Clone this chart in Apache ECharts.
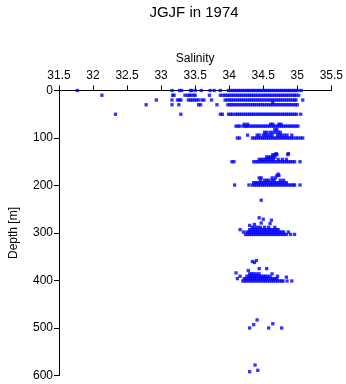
<!DOCTYPE html>
<html>
<head>
<meta charset="utf-8">
<script src="https://cdn.jsdelivr.net/npm/echarts@6/dist/echarts.min.js"></script>
<style>html,body{margin:0;padding:0;background:#fff}#c{width:346px;height:384px}</style>
</head>
<body>
<div id="c"></div>
<script>
// ---- data: salinity values per sampled depth row ----
const title = "JGJF in 1974";
const xName = "Salinity";
const yName = "Depth [m]";
const xTicks = [31.5, 32, 32.5, 33, 33.5, 34, 34.5, 35, 35.5];
const yTicks = [0, 100, 200, 300, 400, 500, 600];

const rowDepths = [0, 10, 20, 25, 30, 50, 71, 75, 82, 88, 94, 100, 133, 135, 140, 145, 150, 176, 179, 184, 189, 194, 199, 231, 288, 293, 298, 303, 386, 391, 396, 401];

const sal0 = [31.77,33.16,33.27,33.30,33.43,33.45,33.50,33.59,33.72,33.78,33.87,33.99,34.02,34.05,34.08,34.11,34.14,34.17,34.20,34.23,34.26,34.29,34.32,34.35,34.38,34.41,34.44,34.47,34.50,34.53,34.56,34.59,34.62,34.65,34.68,34.71,34.74,34.77,34.80,34.83,34.86,34.89,34.92,34.95,34.98,35.01,35.06];
const sal10 = [32.13,33.17,33.19,33.35,33.39,33.42,33.44,33.48,33.50,33.71,33.87,33.91,33.94,33.97,34.00,34.03,34.06,34.09,34.12,34.15,34.18,34.21,34.24,34.27,34.30,34.33,34.36,34.39,34.42,34.45,34.48,34.51,34.54,34.57,34.60,34.63,34.66,34.69,34.72,34.75,34.78,34.81,34.84,34.87,34.90,34.93,34.96,34.98,35.02];
const sal20 = [32.93,33.16,33.24,33.27,33.29,33.40,33.43,33.46,33.49,33.52,33.55,33.60,33.63,33.74,33.94,33.97,34.00,34.03,34.06,34.09,34.12,34.15,34.18,34.21,34.24,34.27,34.30,34.33,34.36,34.39,34.42,34.45,34.48,34.51,34.54,34.57,34.60,34.63,34.66,34.69,34.72,34.75,34.78,34.81,34.84,34.87,34.90,34.93,34.96,34.98,35.08];
const sal25 = [34.64];
const sal30 = [32.78,33.16,33.26,33.55,33.58,33.82,33.98,34.01,34.04,34.07,34.10,34.13,34.16,34.19,34.22,34.25,34.28,34.31,34.34,34.37,34.40,34.43,34.46,34.49,34.52,34.55,34.58,34.61,34.64,34.67,34.70,34.73,34.76,34.79,34.82,34.85,34.88,34.91,34.94,34.97,35.00];
const sal50 = [32.33,33.29,33.87,33.90,33.99,34.02,34.05,34.09,34.12,34.15,34.18,34.21,34.24,34.27,34.30,34.33,34.36,34.39,34.42,34.45,34.48,34.51,34.54,34.57,34.60,34.63,34.66,34.69,34.72,34.75,34.78,34.81,34.84,34.87,34.90,34.93,34.96,34.99,35.05];
const sal71 = [34.22,34.27,34.61,34.64,34.73,34.76];
const sal75 = [34.10,34.13,34.16,34.21,34.24,34.26,34.29,34.32,34.35,34.38,34.41,34.44,34.47,34.50,34.53,34.56,34.59,34.62,34.65,34.68,34.71,34.74,34.77,34.80,34.83,34.86,34.89,34.92,34.95,34.98,35.01];
const sal82 = [34.67,34.70];
const sal88 = [34.52,34.55,34.60,34.64,34.68,34.72,34.75];
const sal94 = [34.27,34.41,34.44,34.50,34.53,34.56,34.60,34.63,34.71,34.74,34.77,34.81,34.85,34.92];
const sal100 = [34.12,34.15,34.34,34.37,34.40,34.43,34.46,34.49,34.52,34.55,34.58,34.61,34.64,34.67,34.70,34.73,34.76,34.79,34.82,34.85,34.88,34.91,34.94,34.98,35.01,35.05,35.08];
const sal133 = [34.69,34.87];
const sal135 = [34.64,34.67,34.70,34.86];
const sal140 = [34.55,34.58,34.61,34.64,34.67];
const sal145 = [34.44,34.47,34.50,34.53,34.56,34.59,34.62,34.65,34.72,34.78,34.84];
const sal150 = [34.04,34.07,34.36,34.39,34.42,34.45,34.48,34.51,34.54,34.57,34.60,34.63,34.66,34.69,34.72,34.75,34.78,34.81,34.84,34.87,34.90,34.93,34.96,35.04];
const sal176 = [34.72];
const sal179 = [34.70,34.73];
const sal184 = [34.44,34.47,34.63,34.68];
const sal189 = [34.46,34.52,34.55,34.58,34.63,34.66,34.75,34.80];
const sal194 = [34.36,34.39,34.42,34.45,34.48,34.51,34.54,34.57,34.60,34.63,34.66,34.69,34.72,34.75,34.78,34.81,34.84];
const sal199 = [34.08,34.29,34.34,34.37,34.40,34.43,34.46,34.49,34.52,34.55,34.58,34.61,34.64,34.67,34.70,34.73,34.76,34.79,34.82,34.85,34.88,34.91,34.94,34.96,35.04];
const sal231 = [34.47];
const sal288 = [34.34,34.38,34.42,34.46,34.52,34.58,34.67];
const sal293 = [34.16,34.30,34.33,34.36,34.39,34.42,34.45,34.48,34.51,34.54,34.57,34.60,34.63,34.66,34.69,34.72];
const sal298 = [34.21,34.26,34.29,34.32,34.35,34.38,34.41,34.44,34.47,34.50,34.53,34.56,34.59,34.62,34.65,34.68,34.71,34.74,34.77,34.80,34.87];
const sal303 = [34.24,34.27,34.30,34.33,34.36,34.39,34.42,34.45,34.48,34.51,34.54,34.57,34.60,34.63,34.66,34.69,34.72,34.75,34.78,34.81,34.84,34.90,34.96];
const sal386 = [34.30,34.33,34.36,34.40,34.44,34.63];
const sal391 = [34.16,34.26,34.29,34.32,34.35,34.38,34.41,34.44,34.47,34.50,34.53,34.56,34.60,34.71];
const sal396 = [34.12,34.22,34.25,34.28,34.31,34.34,34.37,34.40,34.43,34.46,34.49,34.52,34.55,34.58,34.61,34.64,34.67,34.70];
const sal401 = [34.20,34.23,34.26,34.29,34.32,34.35,34.38,34.41,34.44,34.47,34.50,34.53,34.56,34.59,34.62,34.65,34.68,34.71,34.74,34.77,34.79,34.85,34.92];

const rowSalinities = [sal0, sal10, sal20, sal25, sal30, sal50, sal71, sal75, sal82, sal88, sal94, sal100, sal133, sal135, sal140, sal145, sal150, sal176, sal179, sal184, sal189, sal194, sal199, sal231, sal288, sal293, sal298, sal303, sal386, sal391, sal396, sal401];

// isolated samples: salinity and depth
const looseSal   = [34.44,34.50,34.47,34.62,34.60,34.30,34.37, 34.10,34.34,34.40,34.37,34.28,34.44,34.55,34.84, 34.41,34.36,34.30,34.64,34.58,34.77, 34.38,34.30,34.42,34.26,34.49,34.56];
const looseDepth = [268,  271,  279,  273,  280,  284,  282,   384,  360,  358,  362,  379,  375,  375,  393,   483,  493,  500,  491,  500,  500,   578,  592,  589,  601,  601,  601];

const points = [];
rowDepths.forEach((d, i) => rowSalinities[i].forEach(s => points.push([s, d])));
looseSal.forEach((s, i) => points.push([s, looseDepth[i]]));

const font = 'Liberation Sans, Arial, Helvetica, sans-serif';
const chart = echarts.init(document.getElementById('c'), null, {renderer: 'canvas'});
chart.setOption({
  animation: false,
  backgroundColor: '#ffffff',
  title: {
    text: title, left: 189, top: 0, textAlign: 'center',
    textStyle: {fontFamily: font, fontSize: 15, fontWeight: 'normal', color: '#000'}
  },
  grid: {left: 46.5, right: 13.5, top: 90.5, bottom: 8.5},
  xAxis: {
    type: 'value', position: 'top', min: 31.5, max: 35.5, interval: 0.5,
    name: xName, nameLocation: 'middle', nameGap: 23,
    nameTextStyle: {fontFamily: font, fontSize: 12, color: '#000'},
    axisLine: {show: true, onZero: false, lineStyle: {color: '#000', width: 1}},
    axisTick: {show: true, inside: false, length: 5, lineStyle: {color: '#000'}},
    axisLabel: {fontFamily: font, fontSize: 12, color: '#000', margin: 9,
      formatter: v => xTicks.includes(v) ? String(v) : ''},
    splitLine: {show: false}
  },
  yAxis: {
    type: 'value', inverse: true, min: 0, max: 600, interval: 100,
    name: yName, nameLocation: 'middle', nameGap: 39,
    nameTextStyle: {fontFamily: font, fontSize: 12, color: '#000'},
    axisLine: {show: true, onZero: false, lineStyle: {color: '#000', width: 1}},
    axisTick: {show: true, inside: false, length: 5, lineStyle: {color: '#000'}},
    axisLabel: {fontFamily: font, fontSize: 12, color: '#000', margin: 6,
      formatter: v => yTicks.includes(v) ? String(v) : ''},
    splitLine: {show: false}
  },
  series: [{
    type: 'scatter', data: points, symbol: 'rect', symbolSize: 3.3,
    itemStyle: {color: '#0000ff'}, silent: true
  }]
});
</script>
</body>
</html>
